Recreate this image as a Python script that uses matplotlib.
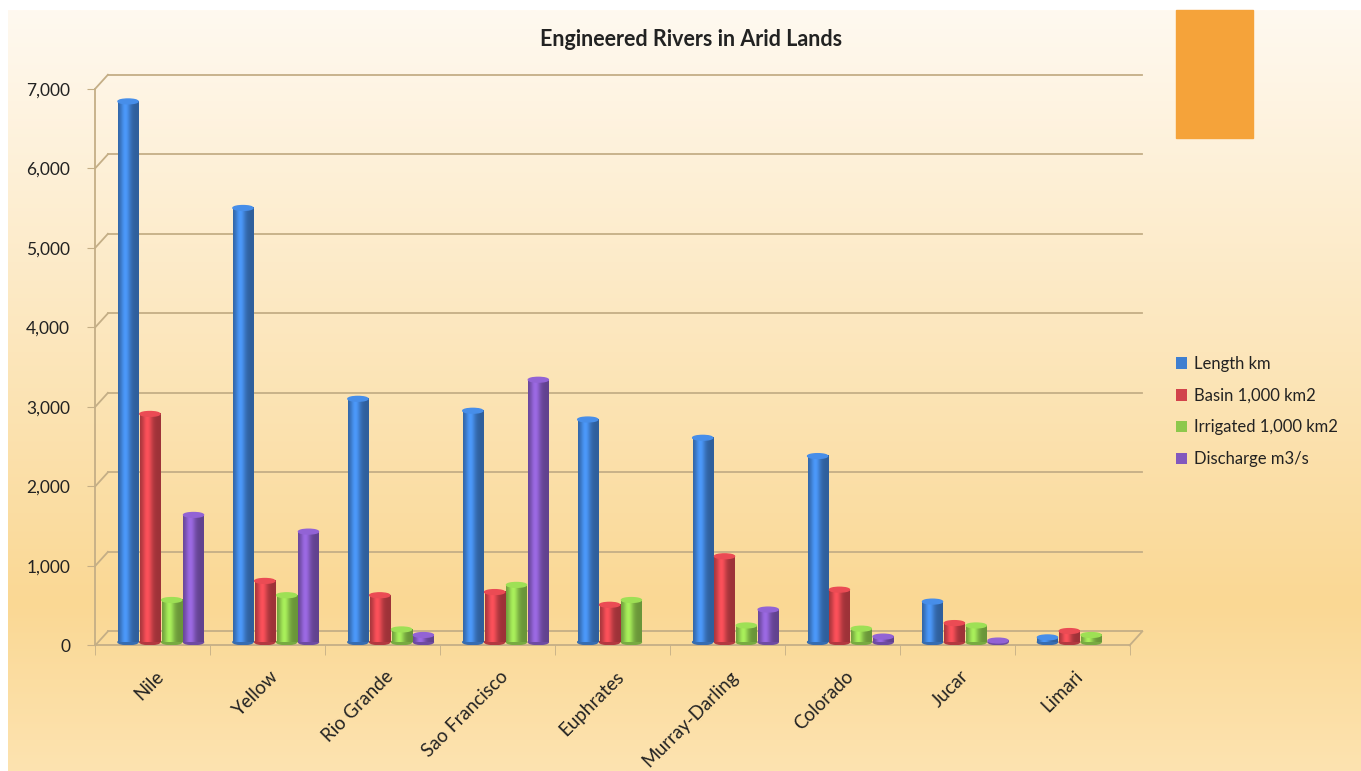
import numpy as np
import matplotlib.pyplot as plt
from matplotlib.patches import Ellipse, Rectangle
from matplotlib.colors import to_rgb

rivers = ["Nile", "Yellow", "Rio Grande", "Sao Francisco", "Euphrates",
          "Murray-Darling", "Colorado", "Jucar", "Limari"]
length_km = [6800, 5460, 3060, 2910, 2800, 2570, 2340, 510, 60]
basin = [2870, 770, 590, 630, 470, 1080, 660, 240, 140]
irrigated = [530, 590, 160, 720, 530, 210, 170, 210, 90]
discharge = [1600, 1390, 90, 3300, 0, 410, 70, 20, 0]

series = [("Length km", length_km, "#3F7FD0"),
          ("Basin 1,000 km2", basin, "#D2434B"),
          ("Irrigated 1,000 km2", irrigated, "#8DC84C"),
          ("Discharge m3/s", discharge, "#8258BE")]

plt.rcParams['font.family'] = ['Lato', 'DejaVu Sans']

fig = plt.figure(figsize=(13.61, 7.71), dpi=100)

# background gradient
bg = fig.add_axes([0.006, 0.0, 0.994, 0.987])
bg.set_axis_off()
top = np.array(to_rgb("#FFF9F0"))
mid = np.array(to_rgb("#FAD894"))
bot = np.array(to_rgb("#FDE3B0"))
t = np.linspace(0, 1, 300)[:, None]
grad = np.where(t < 0.78, top + (mid - top) * (t / 0.78),
                mid + (bot - mid) * ((t - 0.78) / 0.22))
bg.imshow(grad.reshape(300, 1, 3), aspect="auto", extent=[0, 1, 0, 1])
bg.set_xlim(0, 1)
bg.set_ylim(0, 1)
fig.patches.append(Rectangle((0.864, 0.821), 0.057, 0.166, color="#F5A33A",
                             transform=fig.transFigure))

ax = fig.add_axes([0.07, 0.163, 0.76, 0.722])
ax.set_facecolor("none")
n = len(rivers)
x = np.arange(n)
w = 0.19

# pseudo 3D walls: back lines shifted right/up
dx, dy = 0.11, 175
wall = "#C4AE86"
for v in range(0, 7001, 1000):
    ax.plot([-0.5 + dx, n - 0.5 + dx], [v + dy, v + dy], color=wall,
            lw=1.3, zorder=1, clip_on=False)
    ax.plot([-0.5, -0.5 + dx], [v, v + dy], color=wall, lw=1.3, zorder=1,
            clip_on=False)
ax.plot([-0.5, n - 0.5], [0, 0], color=wall, lw=1.3, zorder=2, clip_on=False)
ax.plot([n - 0.5, n - 0.5 + dx], [0, dy], color=wall, lw=1.3, zorder=2,
        clip_on=False)

for i, (name, vals, col) in enumerate(series):
    bars = ax.bar(x - 1.5 * w + i * w + 0.07, vals, w * 0.92, bottom=40,
                  color=col, label=name, zorder=3)
    c = np.array(to_rgb(col))
    for b in bars:
        if b.get_height() <= 0:
            b.set_visible(False)
            continue
        x0, y0 = b.get_x(), b.get_y()
        bw, bh = b.get_width(), b.get_height()
        s = np.linspace(0, 1, 40)
        shade = 0.75 + 0.45 * np.exp(-((s - 0.35) / 0.25) ** 2)
        img = np.clip(c[None, :] * shade[:, None], 0, 1)[None, :, :]
        ax.imshow(img, extent=[x0, x0 + bw, y0, y0 + bh], aspect="auto",
                  zorder=4)
        ax.add_patch(Ellipse((x0 + bw / 2, y0 + bh), bw, 60,
                             color=np.clip(c * 1.12, 0, 1), zorder=5))
        ax.add_patch(Ellipse((x0 + bw / 2, y0), bw, 60,
                             color=c * 0.85, zorder=3.5))

ax.set_xlim(-0.5, n - 0.5)
ax.set_ylim(0, 7000)
ax.set_yticks(range(0, 7001, 1000))
ax.set_yticklabels([f"{v:,}" for v in range(0, 7001, 1000)], fontsize=12.5,
                   color="#222222")
ax.set_xticks(x + 0.02)
ax.set_xticklabels(rivers, rotation=45, ha="right", rotation_mode="anchor",
                   fontsize=13.5, color="#222222")
ax.set_xticks(np.arange(-0.5, n, 1), minor=True)
ax.tick_params(axis="x", which="major", length=0, pad=16)
ax.tick_params(axis="x", which="minor", length=7, color=wall)
ax.tick_params(axis="y", length=6, color=wall, pad=12)
for side in ["top", "right", "bottom"]:
    ax.spines[side].set_visible(False)
ax.spines["left"].set_color(wall)
ax.spines["left"].set_linewidth(1.3)

ax.legend(loc="center left", bbox_to_anchor=(1.03, 0.42), frameon=False,
          fontsize=12, handlelength=0.7, handleheight=0.7,
          handletextpad=0.4, labelspacing=0.95, labelcolor="#222222")

fig.suptitle("Engineered Rivers in Arid Lands", x=0.508, y=0.962,
             fontsize=15.5, fontweight="bold", color="#222222")

fig.savefig("out.png", dpi=100)
